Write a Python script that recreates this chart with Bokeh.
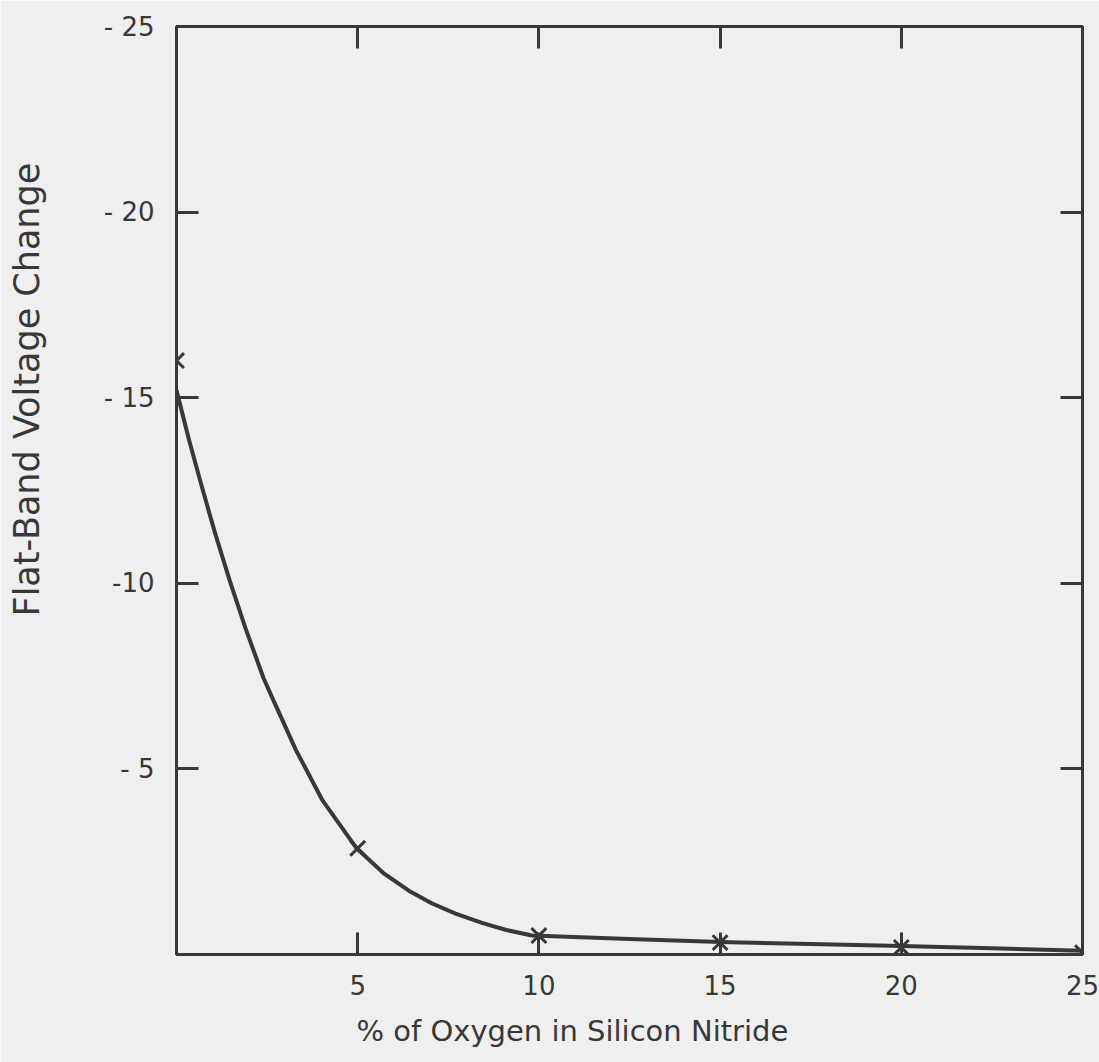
from bokeh.plotting import figure
from bokeh.models import Range1d, LinearAxis, FixedTicker, Title
from bokeh.embed import file_html
from bokeh.resources import INLINE

# measured points (x = % oxygen, y = flat-band voltage change)
point_x = [0, 5, 10, 15, 20, 25]
point_y = [-16.0, -2.86, -0.51, -0.32, -0.19, -0.05]

# smooth fitted curve
curve_x = [0.0, 0.35, 0.7, 1.05, 1.46, 1.9, 2.4, 2.65, 3.3, 4.03, 4.97, 5.7, 6.41, 7.04,
           7.7, 8.43, 9.1, 9.81, 12.5, 15, 17.5, 20, 22.5, 25]
curve_y = [-15.2, -13.85, -12.6, -11.4, -10.1, -8.8, -7.45, -6.9, -5.5, -4.15, -2.86,
           -2.2, -1.72, -1.38, -1.1, -0.85, -0.66, -0.51, -0.42, -0.34, -0.28, -0.23,
           -0.17, -0.1]

x_ticks = [5, 10, 15, 20, 25]
x_tick_labels = ["5", "10", "15", "20", "25"]
y_ticks = [-25, -20, -15, -10, -5]
y_tick_labels = ["- 25", "- 20", "- 15", "-10", "- 5"]

x_title = "% of Oxygen in Silicon Nitride"
y_title = "Flat-Band Voltage Change"

INK = "#383838"
BG = "#efefef"
FONT = "DejaVu Sans"

p = figure(width=1099, height=1062, x_range=Range1d(0, 25), y_range=Range1d(0, -25),
           output_backend="svg", toolbar_location=None,
           min_border_left=175, min_border_right=17, min_border_top=26,
           min_border_bottom=108, x_axis_location=None, y_axis_location=None)
p.background_fill_color = BG
p.border_fill_color = BG
p.outline_line_color = INK
p.outline_line_width = 3
p.grid.visible = False


def style_axis(ax, show_labels):
    ax.axis_line_color = INK
    ax.axis_line_width = 3
    ax.major_tick_line_color = INK
    ax.major_tick_line_width = 3
    ax.major_tick_in = 22
    ax.major_tick_out = 0
    ax.minor_tick_line_color = None
    ax.major_label_text_font = FONT
    ax.major_label_text_color = INK
    ax.major_label_text_font_size = "26px"
    ax.major_label_standoff = 22
    if not show_labels:
        ax.major_label_text_alpha = 0
        ax.major_label_text_font_size = "1px"
        ax.major_label_standoff = 0


bottom = LinearAxis(ticker=FixedTicker(ticks=x_ticks),
                    major_label_overrides={t: s for t, s in zip(x_ticks, x_tick_labels)})
style_axis(bottom, True)
bottom.major_label_standoff = 20
p.add_layout(bottom, "below")

top = LinearAxis(ticker=FixedTicker(ticks=x_ticks[:-1]))
style_axis(top, False)
p.add_layout(top, "above")

left = LinearAxis(ticker=FixedTicker(ticks=y_ticks),
                  major_label_overrides={t: s for t, s in zip(y_ticks, y_tick_labels)})
style_axis(left, True)
p.add_layout(left, "left")

right = LinearAxis(ticker=FixedTicker(ticks=y_ticks[1:]))
style_axis(right, False)
p.add_layout(right, "right")

p.line(curve_x, curve_y, line_color=INK, line_width=4, line_join="round")
p.scatter(point_x, point_y, marker="x", size=21, line_color=INK, line_width=3)

p.add_layout(Title(text=x_title, text_font=FONT, text_font_size="29px",
                   text_font_style="normal", text_color=INK, align="left",
                   offset=180, standoff=28), "below")
# empty spacer between the left tick labels and the vertical axis title
p.add_layout(Title(text=" ", text_font_size="1px", standoff=47), "left")
p.add_layout(Title(text=y_title, text_font=FONT, text_font_size="35px",
                   text_font_style="normal", text_color=INK, align="left",
                   offset=338, standoff=8), "left")

open("out.html", "w").write(file_html(p, INLINE))
